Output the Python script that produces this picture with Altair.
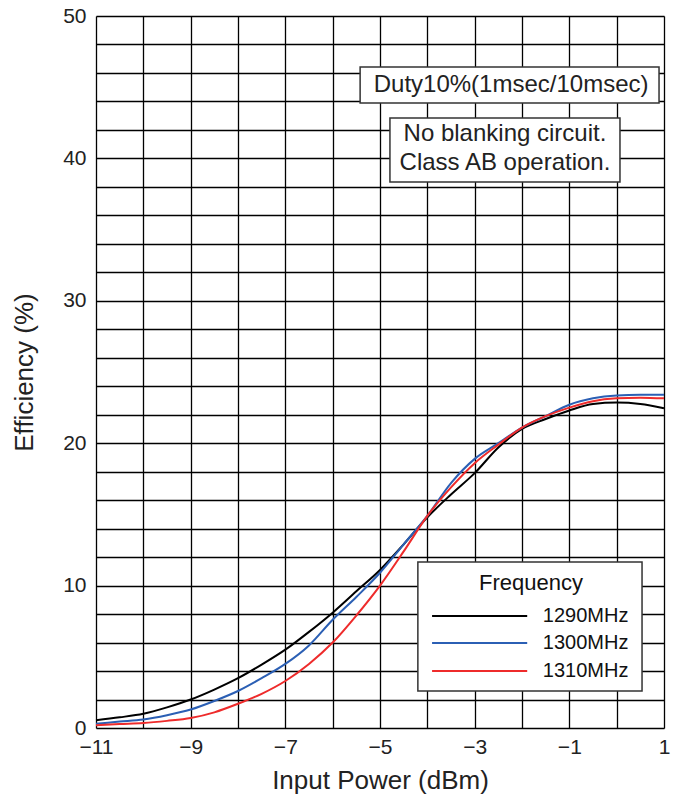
import altair as alt
import pandas as pd

# ---- data ----
x_dbm = [-11, -10.5, -10, -9.5, -9, -8.5, -8, -7.5, -7, -6.5, -6, -5.5, -5,
         -4.5, -4, -3.5, -3, -2.5, -2, -1.5, -1, -0.5, 0, 0.5, 1]
eff_1290 = [0.55, 0.75, 1.0, 1.45, 2.0, 2.7, 3.5, 4.45, 5.5, 6.75, 8.1, 9.6, 11.1,
            12.9, 14.8, 16.4, 17.9, 19.7, 21.0, 21.7, 22.3, 22.75, 22.85, 22.75, 22.45]
eff_1300 = [0.3, 0.45, 0.6, 0.9, 1.3, 1.9, 2.6, 3.5, 4.5, 5.8, 7.6, 9.2, 10.9,
            12.9, 14.9, 17.2, 18.9, 20.0, 21.1, 21.9, 22.7, 23.15, 23.35, 23.4, 23.4]
eff_1310 = [0.2, 0.28, 0.35, 0.5, 0.7, 1.1, 1.7, 2.4, 3.3, 4.5, 6.0, 7.9, 10.0,
            12.4, 14.9, 16.9, 18.6, 19.9, 21.1, 21.9, 22.5, 22.95, 23.15, 23.2, 23.15]
series_names = ["1290MHz", "1300MHz", "1310MHz"]
series_colors = ["#000000", "#2b5fb4", "#ee2b2b"]

x_ticks = list(range(-11, 2))
y_ticks = list(range(0, 51, 2))

# annotation boxes (data coords) and texts
box_x1 = [-5.42, -4.79, -4.20]
box_x2 = [0.895, 0.07, 0.536]
box_y1 = [46.42, 42.84, 11.66]
box_y2 = [43.89, 38.34, 2.60]
note_texts = [["Duty10%(1msec/10msec)"], ["No blanking circuit.", "Class AB operation."]]
note_x = [-2.23, -2.36]
note_y = [45.15, 41.7]

legend_title = "Frequency"
legend_line_x1 = -3.90
legend_line_x2 = -1.89
legend_y = [7.87, 5.97, 4.0]
legend_label_x = -1.56
legend_title_x = -1.81
legend_title_y = 10.2

NARROW = "Liberation Sans Narrow, Liberation Sans, Arial, sans-serif"
ARIAL = "Liberation Sans, Arial, sans-serif"

rows = []
for name, vals in zip(series_names, [eff_1290, eff_1300, eff_1310]):
    for xv, yv in zip(x_dbm, vals):
        rows.append({"x": xv, "y": yv, "series": name})
df = pd.DataFrame(rows)

xscale = alt.Scale(domain=[-11, 1], nice=False, zero=False)
yscale = alt.Scale(domain=[0, 50], nice=False)
cscale = alt.Scale(domain=series_names, range=series_colors)

xaxis = alt.Axis(values=x_ticks, tickCount=40, format="d", title="Input Power (dBm)",
                 labelExpr="(datum.value + 11) % 2 == 0 ? datum.label : ''",
                 labelOverlap=False,
                 grid=True, gridColor="black", gridOpacity=1, gridWidth=1.3,
                 ticks=False, domain=False, labelFont=NARROW, labelFontSize=21,
                 labelColor="#222", labelPadding=8, labelFlush=False,
                 titleFont=ARIAL, titleFontSize=26, titleFontWeight="normal",
                 titleColor="#222", titleX=284, titleY=60, titleBaseline="alphabetic")
yaxis = alt.Axis(values=y_ticks, tickCount=60, format="d", title="Efficiency (%)",
                 labelExpr="datum.value % 10 == 0 ? datum.label : ''",
                 labelOverlap=False,
                 grid=True, gridColor="black", gridOpacity=1, gridWidth=1.3,
                 ticks=False, domain=False, labelFont=NARROW, labelFontSize=21,
                 labelColor="#222", labelPadding=10, labelFlush=False,
                 titleFont=ARIAL, titleFontSize=26, titleFontWeight="normal",
                 titleColor="#222", titleX=-72, titleY=356, titleBaseline="middle")

lines = alt.Chart(df).mark_line(strokeWidth=2, interpolate="monotone").encode(
    x=alt.X("x:Q", scale=xscale, axis=xaxis),
    y=alt.Y("y:Q", scale=yscale, axis=yaxis),
    color=alt.Color("series:N", scale=cscale, legend=None),
    detail="series:N",
)

box_df = pd.DataFrame({"x1": box_x1, "x2": box_x2, "y1": box_y1, "y2": box_y2})
boxes = alt.Chart(box_df).mark_rect(fill="white", stroke="#333", strokeWidth=1.5).encode(
    x=alt.X("x1:Q", scale=xscale), x2="x2:Q",
    y=alt.Y("y1:Q", scale=yscale), y2="y2:Q",
)

note_df = pd.DataFrame({"x": note_x, "y": note_y, "t": note_texts})
notes = alt.Chart(note_df).mark_text(font=ARIAL, fontSize=24, color="#222",
                                     align="center", baseline="middle",
                                     lineHeight=29).encode(
    x=alt.X("x:Q", scale=xscale), y=alt.Y("y:Q", scale=yscale), text="t"
)

leg_df = pd.DataFrame({"series": series_names, "y": legend_y,
                       "x1": [legend_line_x1] * 3, "x2": [legend_line_x2] * 3,
                       "lx": [legend_label_x] * 3})
leg_lines = alt.Chart(leg_df).mark_rule(strokeWidth=2).encode(
    x=alt.X("x1:Q", scale=xscale), x2="x2:Q",
    y=alt.Y("y:Q", scale=yscale),
    color=alt.Color("series:N", scale=cscale, legend=None),
)
leg_labels = alt.Chart(leg_df).mark_text(font=NARROW, fontSize=20, color="#111",
                                         align="left", baseline="middle").encode(
    x=alt.X("lx:Q", scale=xscale), y=alt.Y("y:Q", scale=yscale), text="series:N"
)
leg_title_df = pd.DataFrame({"x": [legend_title_x], "y": [legend_title_y], "t": [legend_title]})
leg_title = alt.Chart(leg_title_df).mark_text(font=NARROW, fontSize=22, color="#111",
                                              align="center", baseline="middle").encode(
    x=alt.X("x:Q", scale=xscale), y=alt.Y("y:Q", scale=yscale), text="t"
)

chart = alt.layer(lines, boxes, notes, leg_lines, leg_labels, leg_title).properties(
    width=568, height=712, autosize="none",
    padding={"left": 88, "top": 8, "right": 11, "bottom": 66},
).configure_view(stroke="black", strokeWidth=1.5).configure(background="white")

chart.save("out.html", embed_options={"renderer": "svg", "actions": False})
